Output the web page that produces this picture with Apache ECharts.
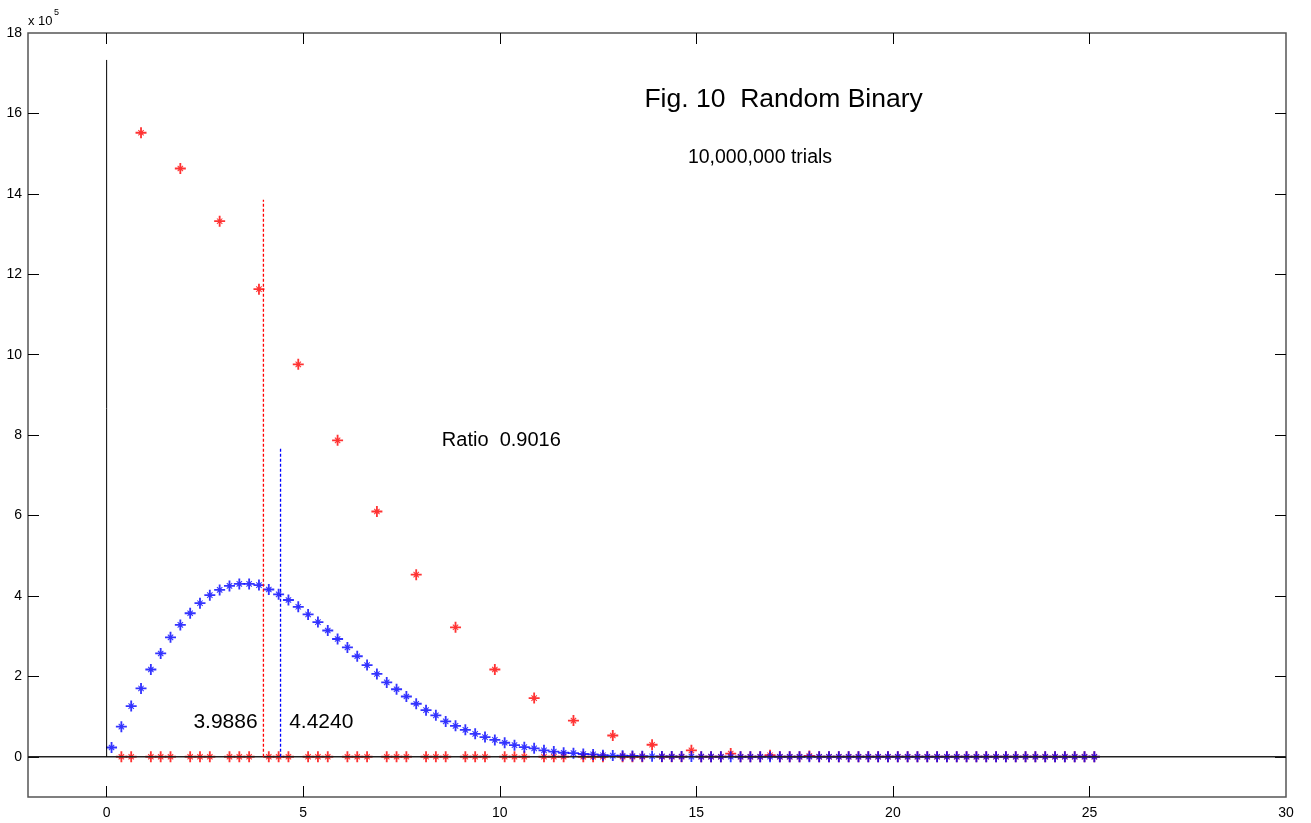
<!DOCTYPE html>
<html>
<head>
<meta charset="utf-8">
<script src="https://cdn.jsdelivr.net/npm/echarts@6/dist/echarts.min.js"></script>
<style>
html,body{margin:0;padding:0;background:#fff;}
#main{width:1311px;height:823px;}
</style>
</head>
<body>
<div id="main"></div>
<script>
// ---- data (counts in units of 1e5) ----
const binStart = 0.125;
const binWidth = 0.25;
const blueCounts = [
  0.23,0.75,1.26,1.70,2.17,2.57,2.97,3.28,3.57,3.82,
  4.02,4.15,4.25,4.30,4.30,4.27,4.16,4.04,3.90,3.73,
  3.54,3.35,3.14,2.93,2.72,2.50,2.28,2.06,1.85,1.68,
  1.50,1.32,1.16,1.03,0.88,0.77,0.67,0.57,0.49,0.42,
  0.35,0.29,0.24,0.21,0.16,0.13,0.10,0.09,0.07,0.06,
  0.04,0.03,0.025,0.02,0.015,0.012,0.010,0.008,0.006,0.005,
  0.004,0.003,0.002,0.002,0.001,0.001,0.001,0,0,0,
  0,0,0,0,0,0,0,0,0,0,
  0,0,0,0,0,0,0,0,0,0,
  0,0,0,0,0,0,0,0,0,0,
  0
];
const redCounts = [
  null,0,0,15.52,0,0,0,14.63,0,0,
  0,13.32,0,0,0,11.63,0,0,0,9.76,
  0,0,0,7.87,0,0,0,6.10,0,0,
  0,4.53,0,0,0,3.22,0,0,0,2.17,
  0,0,0,1.46,0,0,0,0.90,0,0,
  0,0.53,0,0,0,0.30,0,0,0,0.16,
  0,0,0,0.08,0,0,0,0.04,0,0,
  0,0.02,0,0,0,0,0,0,0,0,
  0,0,0,0,0,0,0,0,0,0,
  0,0,0,0,0,0,0,0,0,0,
  0
];
const redMean = 3.9886, redMeanLineTop = 13.85;
const blueMean = 4.4240, blueMeanLineTop = 7.68;
const zeroLineTop = 17.33;
const xTicks = [0,5,10,15,20,25,30];
const yTicks = [0,2,4,6,8,10,12,14,16,18];
const xRange = [-2, 30];
const yRange = [-1, 18];
const titleText = 'Fig. 10  Random Binary';
const trialsText = '10,000,000 trials';
const ratioText = 'Ratio  0.9016';
const redMeanText = '3.9886';
const blueMeanText = '4.4240';

// ---- build ----
const FONT = '"Liberation Sans", Arial, Helvetica, sans-serif';
const STAR = 'path://M7.5 0H10.5V18H7.5Z M0 7.5H18V10.5H0Z M4 5.2L5.2 4L14 12.8L12.8 14Z M12.8 4L14 5.2L5.2 14L4 12.8Z';
const bluePts = blueCounts.map((v,i)=> v===null ? null : [binStart + i*binWidth, v]).filter(Boolean);
const redPts = redCounts.map((v,i)=> v===null ? null : [binStart + i*binWidth, v]).filter(Boolean);

const chart = echarts.init(document.getElementById('main'), null, {renderer:'canvas'});
const tickStyle = {show:true, inside:true, length:11, lineStyle:{color:'#000', width:1}};
const noLine = {show:false, onZero:false};
chart.setOption({
  animation:false,
  backgroundColor:'#fff',
  grid:{left:28, right:25, top:33, bottom:26, show:true, borderColor:'#555', borderWidth:1.5, backgroundColor:'#fff'},
  xAxis:[
    {type:'value', min:xRange[0], max:xRange[1], position:'bottom',
     axisLine:noLine, splitLine:{show:false},
     axisTick:Object.assign({customValues:xTicks.slice(0,-1)}, tickStyle),
     axisLabel:{show:true, customValues:xTicks, margin:9, color:'#000', fontSize:14, fontFamily:FONT}},
    {type:'value', min:xRange[0], max:xRange[1], position:'top',
     axisLine:noLine, splitLine:{show:false},
     axisTick:Object.assign({customValues:xTicks.slice(0,-1)}, tickStyle),
     axisLabel:{show:false}}
  ],
  yAxis:[
    {type:'value', min:yRange[0], max:yRange[1], position:'left',
     axisLine:noLine, splitLine:{show:false},
     axisTick:Object.assign({customValues:yTicks.slice(0,-1)}, tickStyle),
     axisLabel:{show:true, customValues:yTicks, margin:6, color:'#000', fontSize:14, fontFamily:FONT}},
    {type:'value', min:yRange[0], max:yRange[1], position:'right',
     axisLine:noLine, splitLine:{show:false},
     axisTick:Object.assign({customValues:yTicks.slice(0,-1)}, tickStyle),
     axisLabel:{show:false}}
  ],
  series:[
    {type:'line', data:[[xRange[0],0],[xRange[1],0]], symbol:'none', silent:true,
     lineStyle:{color:'#222', width:1.5}},
    {type:'line', data:[[0,0],[0,zeroLineTop]], symbol:'none', silent:true,
     lineStyle:{color:'#000', width:1}},
    {type:'line', data:[[redMean,0],[redMean,redMeanLineTop]], symbol:'none', silent:true,
     lineStyle:{color:'#ff0000', width:1.3, type:[3,2]}},
    {type:'line', data:[[blueMean,0],[blueMean,blueMeanLineTop]], symbol:'none', silent:true,
     lineStyle:{color:'#0000ff', width:1.3, type:[3,2]}},
    {type:'scatter', data:redPts, symbol:STAR, symbolSize:11, itemStyle:{color:'#ff0000'}, silent:true},
    {type:'scatter', data:bluePts, symbol:STAR, symbolSize:11, itemStyle:{color:'#0000ff'}, silent:true}
  ]
});

function px(x,y){ return chart.convertToPixel({xAxisIndex:0, yAxisIndex:0}, [x,y]); }
function txt(text, p, size, align){
  return {type:'text', x:p[0], y:p[1], silent:true,
    style:{text:text, fill:'#000', fontSize:size, fontFamily:FONT,
           textAlign:align||'center', align:align||'center',
           textVerticalAlign:'middle', verticalAlign:'middle'}};
}
chart.setOption({
  graphic:[
    txt(titleText, px(17.22, 16.34), 26.5),
    txt(trialsText, px(16.62, 14.90), 19.5),
    txt(ratioText, px(10.04, 7.87), 20),
    txt(redMeanText, px(3.025, 0.866), 21),
    txt(blueMeanText, px(5.46, 0.866), 21),
    {type:'text', x:28, y:21, silent:true,
     style:{text:'x 10', fill:'#000', fontSize:13, fontFamily:FONT, textAlign:'left', align:'left', textVerticalAlign:'middle', verticalAlign:'middle'}},
    {type:'text', x:54, y:13, silent:true,
     style:{text:'5', fill:'#000', fontSize:9, fontFamily:FONT, textAlign:'left', align:'left', textVerticalAlign:'middle', verticalAlign:'middle'}}
  ]
});
</script>
</body>
</html>
